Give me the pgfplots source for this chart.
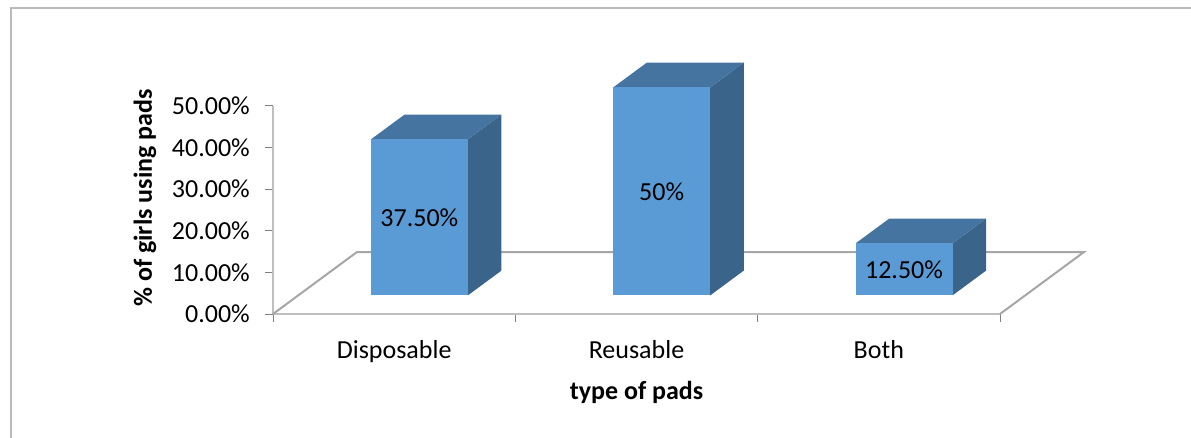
\documentclass[border=0pt]{standalone}
\usepackage{pgfplots}
\pgfplotsset{compat=1.18}
\usepackage{pgfplotstable}
\usepackage{fontspec}
\setmainfont{Carlito}
\definecolor{frontc}{HTML}{5B9BD5}
\definecolor{topc}{HTML}{4674A1}
\definecolor{sidec}{HTML}{3A6489}
\definecolor{floorc}{HTML}{A6A6A6}
\definecolor{axisc}{HTML}{BFBFBF}
\definecolor{framec}{HTML}{BABABA}
\newcommand\cfont{\fontsize{26bp}{31bp}\selectfont}

% category centre, value (%), label
\pgfplotstableread{
c v lab
0.5 37.5 37.50
1.5 50 50
2.5 12.5 12.50
}\datatable

% depth vector of the floor (data units)
\def\Dx{0.3466}
\def\Dy{14.9}

\begin{document}
\begin{tikzpicture}
\useasboundingbox (0,0) rectangle (1191bp,438bp);
\draw[framec, line width=2bp] (11bp,0) -- (11bp,430bp) -- (1191bp,430bp);
\begin{axis}[
  at={(273bp,124bp)}, anchor=south west,
  scale only axis, width=727bp, height=208bp,
  xmin=0, xmax=3, ymin=0, ymax=50,
  clip=false,
  axis x line*=bottom, axis y line*=left,
  axis line style={draw=axisc, line width=2.5bp},
  xtick={0,1,2,3},
  xticklabels={Disposable,Reusable,Both},
  x tick label as interval,
  ytick={0,10,20,30,40,50},
  yticklabels={0.00\%,10.00\%,20.00\%,30.00\%,40.00\%,50.00\%},
  tick align=outside,
  major tick length=8bp,
  tick style={draw=gray, line width=1bp},
  tick label style={font=\cfont},
  yticklabel style={inner sep=0pt, xshift=-15bp},
  xticklabel style={inner sep=0pt, yshift=-18bp},
  xlabel={\bfseries type of pads},
  ylabel={\bfseries \% of girls using pads},
  label style={font=\cfont},
  xlabel style={at={(axis description cs:0.5,-0.375)}, anchor=center},
  ylabel style={at={(axis description cs:-0.176,0.558)}, anchor=center},
]
% floor
\addplot[draw=floorc, line width=2bp] coordinates {(0,0) (0.3466,14.9) (3.3466,14.9) (3,0)};
% 3D bars
\pgfplotsinvokeforeach{0,1,2}{%
  \pgfplotstablegetelem{#1}{c}\of\datatable \pgfmathsetmacro\cc{\pgfplotsretval}%
  \pgfplotstablegetelem{#1}{v}\of\datatable \pgfmathsetmacro\vv{\pgfplotsretval}%
  \pgfmathsetmacro\xl{\cc-0.2+0.3*\Dx}%
  \pgfmathsetmacro\xr{\cc+0.2+0.3*\Dx}%
  \pgfmathsetmacro\xL{\xl+0.4*\Dx}%
  \pgfmathsetmacro\xR{\xr+0.4*\Dx}%
  \pgfmathsetmacro\yb{0.3*\Dy}%
  \pgfmathsetmacro\yt{\vv+0.3*\Dy}%
  \pgfmathsetmacro\yB{\yb+0.4*\Dy}%
  \pgfmathsetmacro\yT{\yt+0.4*\Dy}%
  \edef\doplot{%
    \noexpand\addplot[draw=none, fill=sidec] coordinates {(\xr,\yb) (\xR,\yB) (\xR,\yT) (\xr,\yt)};
    \noexpand\addplot[draw=none, fill=topc] coordinates {(\xl,\yt) (\xr,\yt) (\xR,\yT) (\xL,\yT)};
    \noexpand\addplot[draw=none, fill=frontc] coordinates {(\xl,\yb) (\xr,\yb) (\xr,\yt) (\xl,\yt)};
  }%
  \doplot
}
% data labels on the front faces
\addplot[draw=none, mark=none, point meta=explicit symbolic,
  nodes near coords={\pgfplotspointmeta\%},
  every node near coord/.append style={anchor=center, font=\cfont, inner sep=0pt, yshift=0pt}]
  table[x expr=\thisrow{c}+0.3*\Dx, y expr=\thisrow{v}/2+0.3*\Dy, meta=lab] {\datatable};
\end{axis}
\end{tikzpicture}
\end{document}
